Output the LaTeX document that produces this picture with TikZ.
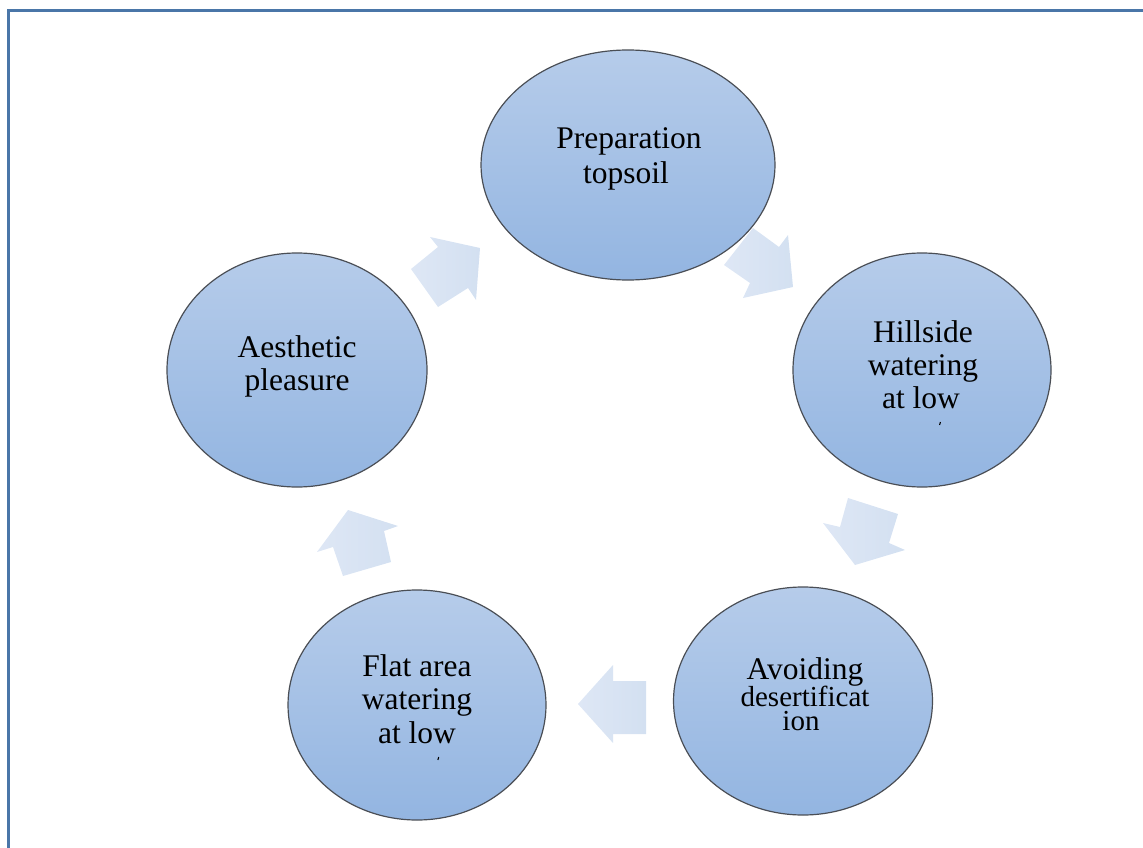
\documentclass[tikz,border=0pt]{standalone}
\usepackage{fontspec}
\setmainfont{Liberation Serif}
\usetikzlibrary{shapes.geometric}
\begin{document}
\begin{tikzpicture}[x=1pt,y=-1pt,
  every node/.style={inner sep=0pt, outer sep=0pt},
  bubble/.style={ellipse, draw=bubbleEdge, line width=1.2pt,
    top color=bubbleTop, bottom color=bubbleBot},
  lbl/.style={anchor=base, font=\fontsize{31.5}{34}\selectfont},
  lblsmall/.style={anchor=base, font=\fontsize{29}{29}\selectfont},
  blockarrow/.style={left color=arrowA, right color=arrowB, draw=none},
  frameline/.style={draw=frameBlue, line width=3pt}
]
\definecolor{bubbleTop}{HTML}{B6CCEA}
\definecolor{bubbleBot}{HTML}{93B5E1}
\definecolor{bubbleEdge}{HTML}{4A4E55}
\definecolor{arrowA}{HTML}{DEE7F5}
\definecolor{arrowB}{HTML}{D3E0F1}
\definecolor{frameBlue}{HTML}{4A76A8}
\useasboundingbox (0,0) rectangle (1143,848);
\begin{scope}
\clip (0,0) rectangle (1143,848);
% page frame (left and top edges)
\draw[frameline] (8.5,860) -- (8.5,10.5) -- (1150,10.5);
\end{scope}

% cycle steps
\node[bubble, minimum width=294pt, minimum height=230pt] (prep)   at (628,165) {};
\node[bubble, minimum width=258pt, minimum height=234pt] (hill)   at (922,370) {};
\node[bubble, minimum width=259pt, minimum height=228pt] (avoid)  at (803,701) {};
\node[bubble, minimum width=258pt, minimum height=230pt] (flat)   at (417,705) {};
\node[bubble, minimum width=260pt, minimum height=234pt] (aesth)  at (297,370) {};

% labels
\node[lbl] (prep1) at (629,149) {Preparation};
\node[lbl] (prep2) at (626,183) {topsoil};
\node[lbl] (hill1) at (923,342) {Hillside};
\node[lbl] (hill2) at (923,375) {watering};
\node[lbl] (hill3) at (921,408) {at low};
\node[lbl] (aest1) at (297,357) {Aesthetic};
\node[lbl] (aest2) at (297,390) {pleasure};
\node[lbl] (flat1) at (417,676) {Flat area};
\node[lbl] (flat2) at (417,709) {watering};
\node[lbl] (flat3) at (417,743) {at low};
\node[lbl] (avoi1) at (805,679) {Avoiding};
\node[lblsmall] (avoi2) at (805,706) {desertificat};
\node[lblsmall] (avoi3) at (801,730) {ion};

% clipped remnants of a further line of text
\draw[line width=1.1pt] (940.4,422) -- (939.6,425);
\draw[line width=1.1pt] (438.7,757) -- (437.9,760);

% block arrows between the steps
\path[blockarrow] (430,237) -- (480,248) -- (476,300) -- (468,288) -- (438,307) -- (411,269) -- (438,247) -- cycle;
\path[blockarrow] (753,228) -- (779,247) -- (788,235) -- (793,287) -- (743,298) -- (750,283) -- (724,265) -- cycle;
\path[blockarrow] (848,498) -- (898,514) -- (889,543) -- (905,550) -- (855,565) -- (823,523) -- (840,527) -- cycle;
\path[blockarrow] (646,681) -- (646,734) -- (613,734) -- (613,743) -- (578,704) -- (613,665) -- (613,681) -- cycle;
\path[blockarrow] (317,552) -- (348,510) -- (398,526) -- (384,531) -- (391,562) -- (343,576) -- (333,547) -- cycle;
\end{tikzpicture}
\end{document}
